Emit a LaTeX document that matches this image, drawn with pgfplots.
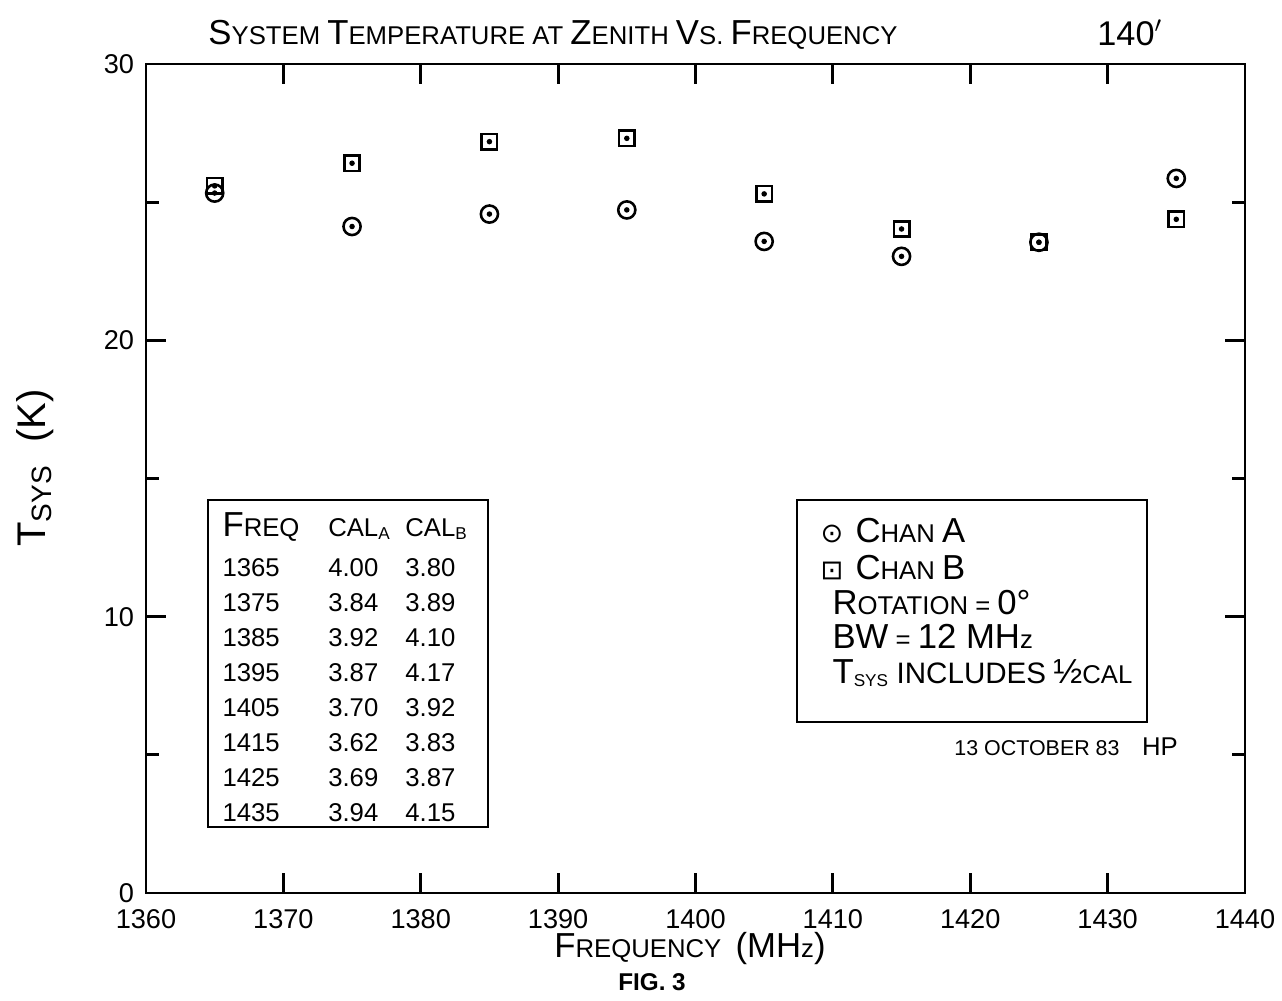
\documentclass[border=0pt]{standalone}
\usepackage{fontspec}
\setmainfont{Liberation Sans}
\newfontfamily\dejavu{DejaVu Sans}
\usepackage{graphicx}
\usepackage{pgfplots}
\usepackage{pgfplotstable}
\pgfplotsset{compat=1.18}
\newcommand\B[1]{\scalebox{1.35}{#1}}

\pgfplotstableread{
f a b
1365 25.33 25.59
1375 24.12 26.41
1385 24.57 27.19
1395 24.72 27.31
1405 23.58 25.30
1415 23.04 24.03
1425 23.55 23.55
1435 25.86 24.38
}\tsys

\begin{document}
\begin{tikzpicture}
\begin{scope}[x=0.35pt,y=0.35pt]
\path[use as bounding box] (-146,-101) rectangle (1136,893);
\end{scope}
\begin{axis}[
  scale only axis, width=384.65pt, height=290.15pt,
  xmin=1360, xmax=1440, ymin=0, ymax=30,
  xtick={1360,1370,...,1440}, ytick={0,10,20,30},
  minor ytick={5,15,25},
  tick align=inside,
  major tick length=7pt, minor tick length=4.5pt,
  tick style={black, line width=1pt},
  axis line style={line width=1pt},
  tick label style={font=\fontsize{9.5}{9.5}\selectfont, inner sep=1pt},
  yticklabel style={xshift=-3pt},
  xticklabel style={yshift=-4.5pt},
  /pgf/number format/assume math mode=true,
  /pgf/number format/1000 sep={},
  clip=false,
]
\addplot[only marks, mark=o, mark size=3pt, mark options={line width=0.9pt}] table[x=f,y=a]{\tsys};
\addplot[only marks, mark=*, mark size=0.75pt] table[x=f,y=a]{\tsys};
\addplot[only marks, mark=square, mark size=2.7pt, mark options={line width=0.9pt}] table[x=f,y=b]{\tsys};
\addplot[only marks, mark=*, mark size=0.75pt] table[x=f,y=b]{\tsys};
\end{axis}
\begin{scope}[x=0.35pt,y=0.35pt]
\node at (407,858) {\fontsize{9}{9}\selectfont \B{S}YSTEM \B{T}EMPERATURE AT \B{Z}ENITH \B{V}S. \B{F}REQUENCY};
\node at (984,860) {\fontsize{12}{12}\selectfont 140$'$};
\node[rotate=90] at (-111,425) {\fontsize{14}{14}\selectfont T\textsubscript{SYS}\ \ (K)};
\node at (544,-56) {\fontsize{9}{9}\selectfont \B{F}REQUENCY\ \ \B{(MH}z\B{)}};
\node at (506,-89) {\fontsize{8.5}{8.5}\selectfont\bfseries FIG. 3};
% table
\draw[line width=1pt] (62,66) rectangle (342,393);
\node[anchor=north west, inner sep=0pt] at (76,382) {\fontsize{9}{12.25}\selectfont\setlength\tabcolsep{0pt}%
\begin{tabular}{@{}p{37pt}p{27pt}l@{}}
\B{F}REQ & CAL\textsubscript{A} & CAL\textsubscript{B}\\[2pt]
1365 & 4.00 & 3.80\\
1375 & 3.84 & 3.89\\
1385 & 3.92 & 4.10\\
1395 & 3.87 & 4.17\\
1405 & 3.70 & 3.92\\
1415 & 3.62 & 3.83\\
1425 & 3.69 & 3.87\\
1435 & 3.94 & 4.15\\
\end{tabular}};
% legend box
\draw[line width=1pt] (651,171) rectangle (1001,393);
\node[anchor=base west, inner sep=0pt] at (674,351) {\fontsize{9.5}{9.5}\selectfont\dejavu ⊙};
\node[anchor=base west, inner sep=0pt] at (709,351) {\fontsize{9}{9}\selectfont \B{C}HAN \B{A}};
\node[anchor=base west, inner sep=0pt] at (674,314) {\fontsize{9.5}{9.5}\selectfont\dejavu ⊡};
\node[anchor=base west, inner sep=0pt] at (709,314) {\fontsize{9}{9}\selectfont \B{C}HAN \B{B}};
\node[anchor=base west, inner sep=0pt] at (686,279) {\fontsize{9}{9}\selectfont \B{R}OTATION = \B{0°}};
\node[anchor=base west, inner sep=0pt] at (686,245) {\fontsize{9}{9}\selectfont \B{BW} = \B{12 MH}z};
\node[anchor=base west, inner sep=0pt] at (686,210) {\fontsize{9}{9}\selectfont \B{T}\textsubscript{SYS} \scalebox{1.15}{INCLUDES} \B{½}CAL};
\node[anchor=base] at (891,138) {\fontsize{7.5}{7.5}\selectfont 13 OCTOBER 83};
\node[anchor=base] at (1014,138) {\fontsize{9}{9}\selectfont HP};
\end{scope}
\end{tikzpicture}
\end{document}
